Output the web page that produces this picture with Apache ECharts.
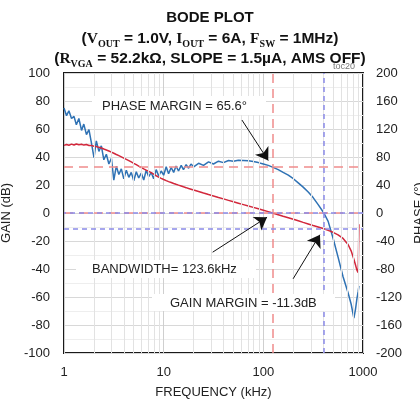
<!DOCTYPE html>
<html>
<head>
<meta charset="utf-8">
<script src="https://cdn.jsdelivr.net/npm/echarts@6/dist/echarts.min.js"></script>
<style>
  html, body { margin: 0; padding: 0; background: #fff; }
  #chart { width: 420px; height: 409px; }
</style>
</head>
<body>
<div id="chart"></div>
<script>
// measured bode data, frequency in kHz
const freqKHz = [
  1.00, 1.06, 1.12, 1.19, 1.26, 1.33, 1.41, 1.50, 1.58, 1.68,
  1.78, 1.88, 2.00, 2.11, 2.24, 2.37, 2.51, 2.66, 2.82, 2.99,
  3.16, 3.35, 3.55, 3.76, 3.98, 4.22, 4.47, 4.73, 5.01, 5.31,
  5.62, 5.96, 6.31, 6.68, 7.08, 7.50, 7.94, 8.41, 8.91, 9.44,
  10.0, 10.6, 11.2, 11.9, 12.6, 13.3, 14.1, 15.0, 15.8, 16.8,
  17.8, 18.8, 20.0, 22.4, 25.1, 28.2, 31.6, 35.5, 39.8, 44.7,
  50.1, 56.2, 63.1, 70.8, 79.4, 89.1, 100, 112, 123.6, 141,
  158, 178, 200, 224, 251, 282, 316, 355, 405, 447,
  501, 562, 631, 708, 760, 810, 840, 870, 895, 910
];
const gainDb = [
  48.3, 48.9, 48.4, 49.2, 48.6, 49.3, 48.8, 49.1, 48.5, 48.9,
  48.2, 48.3, 47.7, 47.5, 46.9, 46.4, 45.7, 45.0, 44.3, 43.5,
  42.7, 41.8, 41.0, 40.1, 39.2, 38.3, 37.4, 36.5, 35.5, 34.5,
  33.5, 32.5, 31.5, 30.6, 29.7, 28.8, 27.7, 26.6, 25.6, 24.7,
  23.9, 23.1, 22.4, 21.8, 21.1, 20.5, 19.9, 19.3, 18.7, 18.1,
  17.5, 17.0, 16.4, 15.4, 14.3, 13.2, 12.2, 11.1, 10.1, 9.0,
  8.0, 7.0, 6.0, 5.0, 4.0, 3.0, 2.0, 1.0, 0, -1.2,
  -2.3, -3.4, -4.5, -5.6, -6.7, -7.8, -8.9, -10.0, -11.3, -12.4,
  -13.8, -15.6, -18.2, -22.5, -27, -33, -37, -41, -42.5, -8
];
const phaseDeg = [
  150, 139, 146, 135, 138, 126, 135, 118, 127, 112,
  119, 101, 79, 103, 88, 96, 76, 84, 70, 78,
  47, 67, 55, 63, 49, 61, 51, 58, 46, 59,
  50, 57, 47, 61, 52, 58, 49, 62, 53, 60,
  54, 66, 56, 65, 58, 67, 60, 68, 62, 69,
  64, 70, 66, 71, 68, 73, 70, 74, 72, 75,
  74, 75.5, 75, 74.5, 73.5, 72, 70, 68, 65.6, 62,
  58, 54, 49, 43, 37, 30, 22, 12, 0, -12,
  -36, -63, -91, -114, -130, -150, -138, -122, -112, -104
];
const minorFreqs = [2, 3, 4, 5, 6, 7, 8, 9, 20, 30, 40, 50, 60, 70, 80, 90, 200, 300, 400, 500, 600, 700, 800, 900];
const bandwidthKHz = 123.6;
const phaseMarginDeg = 65.6;
const phaseCrossKHz = 405;
const gainMarginDb = -11.3;

const FONT = "'Liberation Sans', Arial, sans-serif";
const RED = '#d2283c';
const BLUE = '#2f72b4';
const RED_DASH = '#f08c8c';
const BLUE_DASH = '#8a8ae8';

const gainData = freqKHz.map((f, i) => [f, gainDb[i]]);
const phaseData = freqKHz.map((f, i) => [f, phaseDeg[i]]);

const chart = echarts.init(document.getElementById('chart'));

const sub = { fontFamily: 'Liberation Serif', fontWeight: 'bold', fontSize: 10, lineHeight: 12, verticalAlign: 'bottom', color: '#111' };
const big = { fontFamily: 'Liberation Serif', fontWeight: 'bold', fontSize: 15.5, lineHeight: 20, color: '#111' };
const txt = { fontFamily: FONT, fontWeight: 'bold', fontSize: 15.5, lineHeight: 20, color: '#111' };

function arrow(from, to) {
  return [
    { coord: from, symbol: 'none' },
    { coord: to, symbol: 'arrow' }
  ];
}

const option = {
  animation: false,
  title: [
    { text: 'BODE PLOT', left: 'center', top: 5, textStyle: { fontFamily: FONT, fontWeight: 'bold', fontSize: 15, color: '#111' } },
    {
      text: '{t|(}{v|V}{s|OUT}{t| = 1.0V, }{v|I}{s|OUT}{t| = 6A, }{v|F}{s|SW}{t| = 1MHz)}',
      left: 'center', top: 24,
      textStyle: { rich: { t: txt, v: big, s: sub } }
    },
    {
      text: '{t|(}{v|R}{s|VGA}{t| = 52.2kΩ, SLOPE = 1.5µA, AMS OFF)}',
      left: 'center', top: 44,
      textStyle: { rich: { t: txt, v: big, s: sub } }
    }
  ],
  grid: {
    left: 64, right: 57, top: 73, bottom: 56,
    outerBoundsMode: 'none', containLabel: false,
    show: true, borderColor: '#1a1a1a', borderWidth: 2, backgroundColor: '#fff'
  },
  xAxis: {
    type: 'log', logBase: 10, min: 1, max: 1000,
    name: 'FREQUENCY (kHz)', nameLocation: 'middle', nameGap: 33,
    nameTextStyle: { fontFamily: FONT, fontSize: 13, color: '#222' },
    axisLine: { show: false }, axisTick: { show: false },
    axisLabel: {
      fontFamily: FONT, fontSize: 13, color: '#222', margin: 13,
      formatter: v => String(Math.round(v))
    },
    splitLine: { show: true, lineStyle: { color: '#cfcfcf', width: 1 } }
  },
  yAxis: [
    {
      type: 'value', min: -100, max: 100, interval: 20,
      name: 'GAIN (dB)', nameLocation: 'middle', nameRotate: 90, nameGap: 40,
      nameTextStyle: { fontFamily: FONT, fontSize: 13, color: '#222' },
      axisLine: { show: false }, axisTick: { show: false },
      axisLabel: { fontFamily: FONT, fontSize: 13, color: '#222', margin: 14 },
      splitLine: { show: true, lineStyle: { color: '#d8d8d8' } },
      minorTick: { show: false, splitNumber: 2 },
      minorSplitLine: { show: true, lineStyle: { color: '#eeeeee' } }
    },
    {
      type: 'value', min: -200, max: 200, interval: 40,
      name: 'PHASE (°)', nameLocation: 'middle', nameRotate: 90, nameGap: 40,
      nameTextStyle: { fontFamily: FONT, fontSize: 13, color: '#222' },
      axisLine: { show: false }, axisTick: { show: false },
      axisLabel: { fontFamily: FONT, fontSize: 13, color: '#222', margin: 13 },
      splitLine: { show: false }
    }
  ],
  series: [
    {
      // minor log grid lines
      type: 'line', data: [], silent: true, z: 1,
      markLine: {
        silent: true, symbol: 'none', animation: false,
        label: { show: false },
        lineStyle: { color: '#e2e2e2', type: 'solid', width: 1 },
        data: minorFreqs.map(f => ({ xAxis: f }))
      }
    },
    {
      name: 'Gain', type: 'line', yAxisIndex: 0, data: gainData,
      showSymbol: false, z: 4,
      lineStyle: { color: RED, width: 1.5 }, itemStyle: { color: RED },
      markLine: {
        silent: true, symbol: 'none', animation: false,
        label: { show: false },
        data: [
          { xAxis: bandwidthKHz, lineStyle: { color: RED_DASH, type: [9, 6], width: 1.5 } },
          { yAxis: 0, lineStyle: { color: RED_DASH, type: [9, 6], width: 1.5 } },
          { yAxis: gainMarginDb, lineStyle: { color: BLUE_DASH, type: [5, 4], width: 1.5 } }
        ]
      }
    },
    {
      name: 'Phase', type: 'line', yAxisIndex: 1, data: phaseData,
      showSymbol: false, z: 3,
      lineStyle: { color: BLUE, width: 1.5 }, itemStyle: { color: BLUE },
      markLine: {
        silent: true, symbol: 'none', animation: false,
        label: { show: false },
        data: [
          { xAxis: phaseCrossKHz, lineStyle: { color: BLUE_DASH, type: [5, 4], width: 1.5 } },
          { yAxis: 0, lineStyle: { color: BLUE_DASH, type: [5, 4], dashOffset: 3, width: 1.5 } },
          { yAxis: phaseMarginDeg, lineStyle: { color: RED_DASH, type: [9, 6], width: 1.5 } }
        ]
      }
    },
    {
      // annotation arrows
      type: 'line', data: [], yAxisIndex: 0, silent: true, z: 10,
      markLine: {
        silent: true, animation: false, symbolSize: 12,
        label: { show: false },
        lineStyle: { color: '#111', type: 'solid', width: 1 },
        data: [
          arrow([61, 66.4], [112, 37.5]),
          arrow([31, -28], [109, -3]),
          arrow([199, -47], [370, -15.5])
        ]
      }
    }
  ],
  graphic: [
    { type: 'text', left: 333, top: 62, z: 100, style: { text: 'toc20', font: '9px ' + FONT, fill: '#777' } },
    { type: 'rect', z: 100, shape: { x: 92, y: 96, width: 174, height: 19 }, style: { fill: '#fff' } },
    { type: 'text', z: 101, x: 102, y: 106, style: { text: 'PHASE MARGIN = 65.6°', font: '13px ' + FONT, fill: '#222', verticalAlign: 'middle' } },
    { type: 'rect', z: 100, shape: { x: 76, y: 260, width: 180, height: 18 }, style: { fill: '#fff' } },
    { type: 'text', z: 101, x: 92, y: 269, style: { text: 'BANDWIDTH= 123.6kHz', font: '13px ' + FONT, fill: '#222', verticalAlign: 'middle' } },
    { type: 'rect', z: 100, shape: { x: 152, y: 294, width: 183, height: 17 }, style: { fill: '#fff' } },
    { type: 'text', z: 101, x: 170, y: 303, style: { text: 'GAIN MARGIN = -11.3dB', font: '13px ' + FONT, fill: '#222', verticalAlign: 'middle' } }
  ]
};

chart.setOption(option);
</script>
</body>
</html>
